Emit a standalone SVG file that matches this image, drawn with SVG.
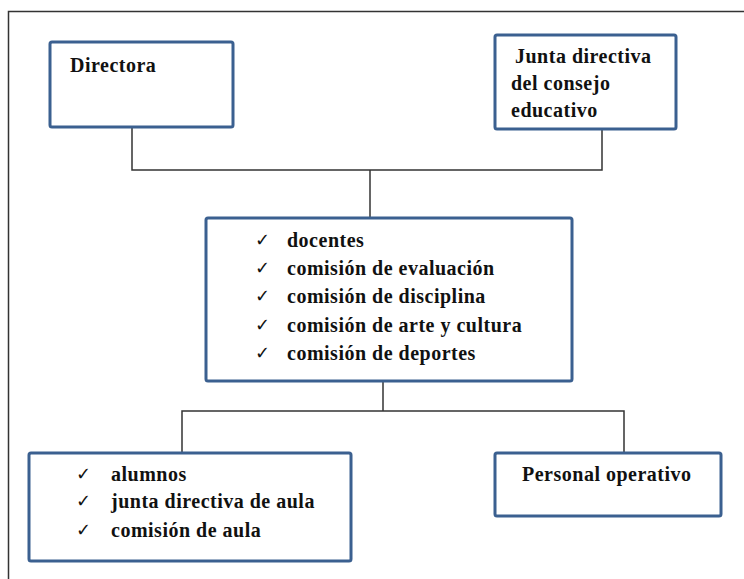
<svg xmlns="http://www.w3.org/2000/svg" width="744" height="579" viewBox="0 0 744 579">
<style>
.box{fill:#fff;stroke:#3B6090;stroke-width:3}
.t{font-family:"Liberation Serif","Times New Roman",serif;font-weight:bold;font-size:20px;letter-spacing:0.5px;fill:#111}
.ck{font-family:"DejaVu Sans",sans-serif;font-size:18px;fill:#111}
.ln{fill:none;stroke:#333;stroke-width:1.5}
</style>
<rect x="0" y="0" width="744" height="579" fill="#fff"/>
<path d="M8.5 590 V11.5 H760" fill="none" stroke="#333" stroke-width="1.5"/>
<g id="connectors">
<path class="ln" d="M132 127 V170 H602 V129"/>
<path class="ln" d="M370 170 V218"/>
<path class="ln" d="M383 381 V411"/>
<path class="ln" d="M182 453 V411 H624 V453"/>
</g>
<g id="directora">
<rect class="box" x="50" y="42" width="183" height="85" rx="2"/>
<text class="t" x="70" y="72">Directora</text>
</g>
<g id="junta">
<rect class="box" x="495" y="35" width="181" height="94" rx="2"/>
<text class="t" x="515" y="63">Junta directiva</text>
<text class="t" x="511" y="90">del consejo</text>
<text class="t" x="511" y="117">educativo</text>
</g>
<g id="docentes">
<rect class="box" x="206" y="218" width="366" height="163" rx="2"/>
<text class="ck" x="255" y="246">✓</text><text class="t" x="287" y="247">docentes</text>
<text class="ck" x="255" y="274">✓</text><text class="t" x="287" y="275">comisión de evaluación</text>
<text class="ck" x="255" y="302">✓</text><text class="t" x="287" y="303">comisión de disciplina</text>
<text class="ck" x="255" y="331">✓</text><text class="t" x="287" y="332">comisión de arte y cultura</text>
<text class="ck" x="255" y="359">✓</text><text class="t" x="287" y="360">comisión de deportes</text>
</g>
<g id="alumnos">
<rect class="box" x="29" y="453" width="322" height="108" rx="2"/>
<text class="ck" x="76" y="480">✓</text><text class="t" x="111" y="481">alumnos</text>
<text class="ck" x="76" y="507">✓</text><text class="t" x="111" y="508">junta directiva de aula</text>
<text class="ck" x="76" y="536">✓</text><text class="t" x="111" y="537">comisión de aula</text>
</g>
<g id="personal">
<rect class="box" x="495" y="453" width="226" height="63" rx="2"/>
<text class="t" x="522" y="481">Personal operativo</text>
</g>
</svg>
